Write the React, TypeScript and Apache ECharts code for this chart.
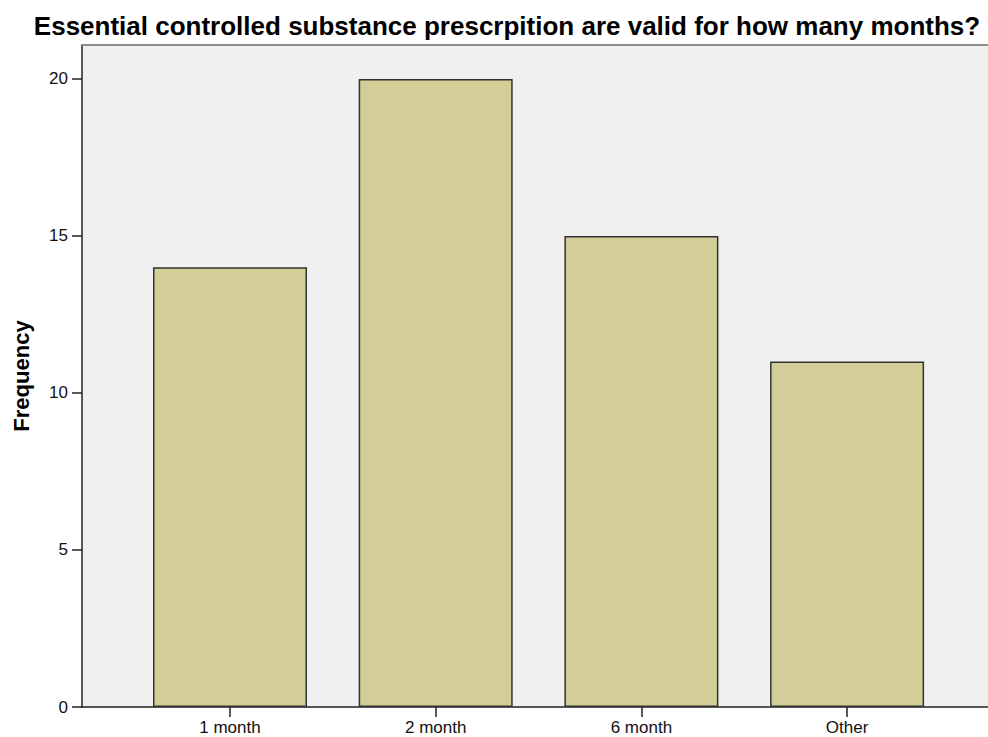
import React, { useEffect, useRef } from "react";
import * as echarts from "echarts";

const categories = ["1 month", "2 month", "6 month", "Other"];
const frequencies = [14, 20, 15, 11];
const yTicks = [0, 5, 10, 15, 20];
const titleText = "Essential controlled substance prescrpition are valid for how many months?";

export default function App() {
  const ref = useRef<HTMLDivElement>(null);
  useEffect(() => {
    if (!ref.current) return;
    const chart = echarts.init(ref.current, undefined, { renderer: "svg" });
    const font = "Arial, 'Liberation Sans', sans-serif";
    chart.setOption({
      animation: false,
      backgroundColor: "#ffffff",
      title: {
        text: titleText,
        left: 502,
        textAlign: "center",
        top: 8,
        textStyle: { fontFamily: font, fontSize: 26, fontWeight: "bold", color: "#000" },
      },
      grid: {
        left: 82,
        right: 0,
        top: 45,
        bottom: 30,
        backgroundColor: "#f0f0f0",
        show: true,
        borderWidth: 0,
        outerBoundsMode: "none",
        containLabel: false,
      },
      graphic: [
        {
          type: "line",
          shape: { x1: 82, y1: 45, x2: 988, y2: 45 },
          style: { stroke: "#8c8c8c", lineWidth: 2 },
          z: 10,
        },
      ],
      xAxis: {
        type: "value",
        min: -0.7195,
        max: 3.685,
        axisLine: { show: true, onZero: false, lineStyle: { color: "#222", width: 1.5 } },
        axisTick: { show: true, customValues: [0, 1, 2, 3], length: 10, lineStyle: { color: "#222", width: 1.5 } },
        axisLabel: {
          customValues: [0, 1, 2, 3],
          formatter: (v: number) => categories[Math.round(v)] ?? "",
          fontFamily: font,
          fontSize: 17,
          color: "#111",
          margin: 12,
        },
        splitLine: { show: false },
      },
      yAxis: {
        type: "value",
        min: 0,
        max: 21.08,
        name: "Frequency",
        nameLocation: "middle",
        nameGap: 50,
        nameTextStyle: { fontFamily: font, fontSize: 22, fontWeight: "bold", color: "#000" },
        axisLine: { show: true, onZero: false, lineStyle: { color: "#222", width: 1.5 } },
        axisTick: { show: true, customValues: yTicks, length: 10, lineStyle: { color: "#222", width: 1.5 } },
        axisLabel: {
          customValues: yTicks,
          fontFamily: font,
          fontSize: 17,
          color: "#111",
          margin: 14,
        },
        splitLine: { show: false },
      },
      series: [
        {
          type: "bar",
          data: frequencies.map((v, i) => [i, v]),
          barWidth: 154,
          itemStyle: { color: "#d3ce97", borderColor: "#333333", borderWidth: 1.5 },
        },
      ],
    });
    return () => chart.dispose();
  }, []);
  return <div ref={ref} style={{ width: 988, height: 737, position: "absolute", left: 0, top: 0 }} />;
}
